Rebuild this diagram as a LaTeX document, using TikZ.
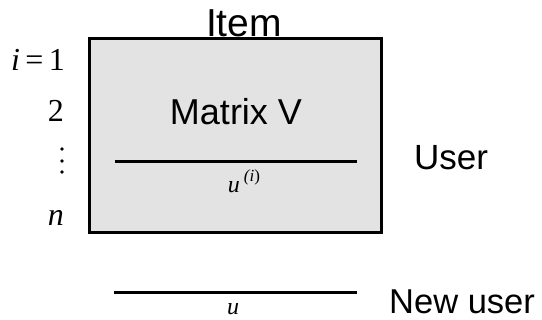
\documentclass[tikz,border=0pt]{standalone}
\usepackage{fontspec}
\setmainfont{Liberation Sans}
\newfontfamily\tms{Liberation Serif}
\begin{document}
\begin{tikzpicture}[x=1pt,y=-1pt,
  lbl/.style={inner sep=0pt,font=\fontsize{35}{35}\selectfont},
  idx/.style={inner sep=0pt,anchor=base east,font=\tms\fontsize{32}{32}\selectfont},
  vec/.style={line width=3pt},
  dot/.style={circle,fill=black,inner sep=0pt,minimum size=3.6pt},
  mathlbl/.style={inner sep=0pt,anchor=base,font=\tms\fontsize{24}{24}\selectfont}]
\useasboundingbox (0,0) rectangle (542,320);
% matrix box
\node[draw=black,line width=3pt,fill=black!11,minimum width=292pt,minimum height=194pt,inner sep=0pt] (box) at (235,136) {};
\node[lbl,anchor=base,font=\fontsize{39}{39}\selectfont] (item) at (244,37) {Item};
\node[lbl,font=\fontsize{36}{36}\selectfont] (mv) at (236,112) {Matrix V};
\coordinate (l1) at (115,162);
\coordinate (r1) at (357,162);
\draw[vec] (l1) -- (r1);
\node[mathlbl] (ui) at (244,193) {\itshape u\,\raisebox{11pt}{\fontsize{17}{17}\selectfont(\itshape i\/\upshape)}};
\node[lbl,anchor=base west] (user) at (414,170) {User};
% index labels
\node[idx] (i1) at (65,71) {\itshape i\upshape\,=\,1};
\node[idx] (i2) at (64,122) {2};
\node[dot] (d1) at (62,149) {};
\node[dot] (d2) at (62,161) {};
\node[dot] (d3) at (62,172) {};
\node[idx] (in) at (64,226) {\itshape n};
% new user
\coordinate (l2) at (114,293);
\coordinate (r2) at (357,293);
\draw[vec] (l2) -- (r2);
\node[mathlbl] (u) at (233,315) {\itshape u};
\node[lbl,anchor=base west,font=\fontsize{34.5}{34.5}\selectfont] (nu) at (389,314) {New user};
\end{tikzpicture}
\end{document}
